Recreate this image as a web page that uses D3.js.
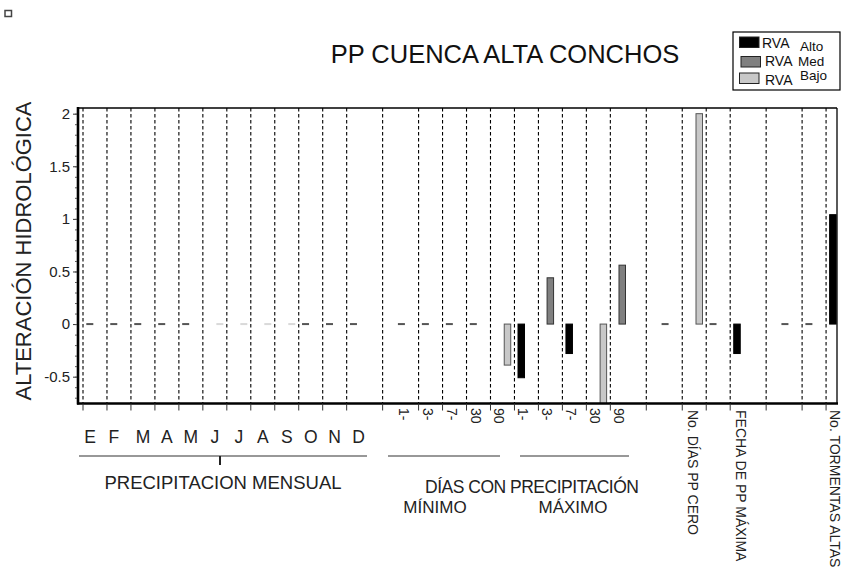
<!DOCTYPE html>
<html>
<head>
<meta charset="utf-8">
<script src="https://cdn.jsdelivr.net/npm/d3@7"></script>
<style>
  body { margin: 0; background: #fff; }
  svg { display: block; font-family: Arial, "Liberation Sans", sans-serif; }
</style>
</head>
<body>
<svg id="chart" width="842" height="568"></svg>
<script>
// x categories (blank = parameter without label)
const months = ["E", "F", "M", "A", "M", "J", "J", "A", "S", "O", "N", "D"];
const durations = ["1-", "3-", "7-", "30", "90"];
const otherParams = ["", "No. DÍAS PP CERO", "", "FECHA DE PP MÁXIMA", "", "", "No. TORMENTAS ALTAS"];
const categories = [...months, ...durations, ...durations, ...otherParams];

// RVA alteration per category, null = no bar
const series = ["Alto", "Med", "Bajo"];
const rvaAlto = [0, 0, 0, 0, 0, null, null, null, null, 0, 0, 0,
  0, 0, 0, 0, null,
  -0.51, null, -0.28, null, null,
  0, null, 0, -0.28, 0, 0, 1.04];
const rvaMed = [null, null, null, null, null, null, null, null, null, null, null, null,
  null, null, null, null, null,
  null, 0.44, null, null, 0.56,
  null, null, null, null, null, null, null];
const rvaBajo = [null, null, null, null, null, 0, 0, 0, 0, null, null, null,
  null, null, null, null, -0.39,
  null, null, null, -0.8, null,
  null, 2.0, null, null, null, null, null];

const yTicks = [-0.5, 0, 0.5, 1, 1.5, 2];

const svg = d3.select("#chart");
const pLeft = 78, pRight = 837, pTop = 108, pBottom = 403.5;

// empty slot after D, after 90 max and after fecha
const gapAfter = new Set([11, 21, 25]);
const slots = [];
categories.forEach((c, i) => {
  slots.push("c" + i);
  if (gapAfter.has(i)) slots.push("gap" + i);
});

const x = d3.scaleBand().domain(slots).range([83, 83 + slots.length * 23.97]).padding(0);
const sub = d3.scalePoint().domain(series).range([6.8, 17]);
const y = d3.scaleLinear().domain([-0.755, 2.054]).range([pBottom, pTop]);

const fills = { Alto: "#000", Med: "#808080", Bajo: "#c8c8c8" };
const strokes = { Alto: "#000", Med: "#333", Bajo: "#555" };
const zeroColor = { Alto: "#555", Med: "#888", Bajo: "#d9d9d9" };

// gridlines sit halfway between neighbouring category centres
const grid = categories.map((c, i) => {
  if (i === 0) return x("c0");
  return (x("c" + (i - 1)) + x("c" + i)) / 2 + x.bandwidth() / 2;
});

svg.append("defs").append("clipPath").attr("id", "plot")
  .append("rect").attr("x", pLeft).attr("y", pTop).attr("width", pRight - pLeft).attr("height", pBottom - pTop);

svg.append("g").selectAll("line").data(grid).enter().append("line")
  .attr("x1", d => d).attr("x2", d => d)
  .attr("y1", pTop).attr("y2", pBottom)
  .attr("stroke", "#000").attr("stroke-width", 1.1)
  .attr("stroke-dasharray", "3.5,2.5");

// bars
const values = { Alto: rvaAlto, Med: rvaMed, Bajo: rvaBajo };
const barData = [];
series.forEach(s => {
  values[s].forEach((v, i) => {
    if (v !== null) barData.push({ s, i, v });
  });
});

const bars = svg.append("g").attr("clip-path", "url(#plot)");
bars.selectAll("rect.bar").data(barData.filter(d => d.v !== 0)).enter().append("rect")
  .attr("class", "bar")
  .attr("x", d => x("c" + d.i) + sub(d.s) - 3.25)
  .attr("width", 6.5)
  .attr("y", d => y(Math.max(d.v, 0)))
  .attr("height", d => Math.abs(y(d.v) - y(0)))
  .attr("fill", d => fills[d.s])
  .attr("stroke", d => strokes[d.s])
  .attr("stroke-width", 1);

bars.selectAll("rect.zero").data(barData.filter(d => d.v === 0)).enter().append("rect")
  .attr("class", "zero")
  .attr("x", d => x("c" + d.i) + sub(d.s) - 3.5)
  .attr("width", 7)
  .attr("y", y(0) - 1)
  .attr("height", 2)
  .attr("fill", d => zeroColor[d.s]);

// frame
svg.append("line").attr("x1", pLeft).attr("x2", pRight).attr("y1", pTop).attr("y2", pTop)
  .attr("stroke", "#000").attr("stroke-width", 1.5);
svg.append("line").attr("x1", pRight).attr("x2", pRight).attr("y1", pTop).attr("y2", pBottom)
  .attr("stroke", "#000").attr("stroke-width", 1.3);
svg.append("line").attr("x1", pLeft).attr("x2", pLeft).attr("y1", pTop - 1).attr("y2", pBottom + 1)
  .attr("stroke", "#000").attr("stroke-width", 2.6);
svg.append("line").attr("x1", pLeft - 1).attr("x2", pRight + 1).attr("y1", pBottom).attr("y2", pBottom)
  .attr("stroke", "#000").attr("stroke-width", 2.7);

// y axis
const yAxis = svg.append("g").attr("transform", `translate(${pLeft - 1},0)`)
  .call(d3.axisLeft(y).tickValues(yTicks).tickSize(4).tickPadding(3).tickFormat(d => String(d)));
yAxis.select(".domain").remove();
yAxis.selectAll("text").attr("font-size", 15).attr("fill", "#222").attr("font-family", "Arial, sans-serif");
yAxis.selectAll("line").attr("stroke", "#333");

const yMinor = svg.append("g").attr("transform", `translate(${pLeft - 1},0)`)
  .call(d3.axisLeft(y).tickValues(d3.range(-0.7, 2.05, 0.1)).tickSize(2).tickFormat(""));
yMinor.select(".domain").remove();
yMinor.selectAll("line").attr("stroke", "#555");

// x ticks
svg.append("g").selectAll("line").data(grid).enter().append("line")
  .attr("x1", d => d).attr("x2", d => d)
  .attr("y1", pBottom).attr("y2", pBottom + 7)
  .attr("stroke", "#333").attr("stroke-width", 1);

// month labels
svg.append("g").selectAll("text").data(months).enter().append("text")
  .attr("x", (d, i) => x("c" + i) + x.bandwidth() / 2 - (i < 2 ? 5 : 0))
  .attr("y", 443)
  .attr("text-anchor", "middle")
  .attr("font-size", 17.5)
  .attr("fill", "#222")
  .text(d => d);

// rotated labels (duration ticks and other parameters)
const rotated = categories.map((c, i) => ({ c, i })).filter(d => d.i >= 12 && d.c !== "");
svg.append("g").selectAll("text").data(rotated).enter().append("text")
  .attr("transform", d => `translate(${x("c" + d.i) + x.bandwidth() / 2 - (d.i < 22 ? 3 : d.i === 28 ? 3 : 1)},${d.i < 22 ? 408 : 410}) rotate(90)`)
  .attr("dominant-baseline", "central")
  .attr("font-size", 14)
  .attr("fill", "#222")
  .text(d => d.c);

// group underlines
const underlines = [[79, 367], [388, 500], [520, 629]];
svg.append("g").selectAll("line").data(underlines).enter().append("line")
  .attr("x1", d => d[0]).attr("x2", d => d[1])
  .attr("y1", 456).attr("y2", 456)
  .attr("stroke", "#333").attr("stroke-width", 1.2);
svg.append("line").attr("x1", 220).attr("x2", 220).attr("y1", 456).attr("y2", 465)
  .attr("stroke", "#222").attr("stroke-width", 2);

svg.append("text").attr("x", 223).attr("y", 489).attr("text-anchor", "middle")
  .attr("font-size", 18.5).attr("fill", "#222").text("PRECIPITACION MENSUAL");
svg.append("text").attr("x", 532).attr("y", 493).attr("text-anchor", "middle")
  .attr("font-size", 17.5).attr("fill", "#222").attr("textLength", 214).text("DÍAS CON PRECIPITACIÓN");
svg.append("text").attr("x", 435).attr("y", 513).attr("text-anchor", "middle")
  .attr("font-size", 17).attr("fill", "#222").text("MÍNIMO");
svg.append("text").attr("x", 573).attr("y", 513).attr("text-anchor", "middle")
  .attr("font-size", 17).attr("fill", "#222").text("MÁXIMO");

// y title
svg.append("text").attr("transform", "translate(31,251) rotate(-90)")
  .attr("text-anchor", "middle").attr("font-size", 22).attr("fill", "#222")
  .text("ALTERACIÓN HIDROLÓGICA");

// title
svg.append("text").attr("x", 505).attr("y", 63).attr("text-anchor", "middle")
  .attr("font-size", 25.5).attr("fill", "#111").text("PP CUENCA ALTA CONCHOS");

// legend
const lg = svg.append("g");
lg.append("rect").attr("x", 733).attr("y", 32).attr("width", 107).attr("height", 58)
  .attr("fill", "#fff").attr("stroke", "#000").attr("stroke-width", 1.2);
const legendPos = [
  { s: "Alto", sx: 739.5, sy: 37, rx: 762, ry: 48, lx: 800, ly: 51 },
  { s: "Med", sx: 741, sy: 56.5, rx: 765, ry: 65.5, lx: 798, ly: 65.5 },
  { s: "Bajo", sx: 739.5, sy: 73, rx: 765, ry: 85, lx: 800, ly: 80 }
];
lg.selectAll("rect.sw").data(legendPos).enter().append("rect")
  .attr("class", "sw")
  .attr("x", d => d.sx).attr("y", d => d.sy)
  .attr("width", 19.5).attr("height", 10.5)
  .attr("fill", d => fills[d.s]).attr("stroke", "#222").attr("stroke-width", 1);
lg.selectAll("text.rva").data(legendPos).enter().append("text")
  .attr("class", "rva")
  .attr("x", d => d.rx).attr("y", d => d.ry)
  .attr("font-size", 14).attr("fill", "#111").text("RVA");
lg.selectAll("text.lvl").data(legendPos).enter().append("text")
  .attr("class", "lvl")
  .attr("x", d => d.lx).attr("y", d => d.ly)
  .attr("font-size", 13.5).attr("fill", "#111").text(d => d.s);

// small marker at top-left corner
svg.append("rect").attr("x", 5).attr("y", 10.5).attr("width", 6.5).attr("height", 6)
  .attr("fill", "#fff").attr("stroke", "#444").attr("stroke-width", 1.5);
</script>
</body>
</html>
